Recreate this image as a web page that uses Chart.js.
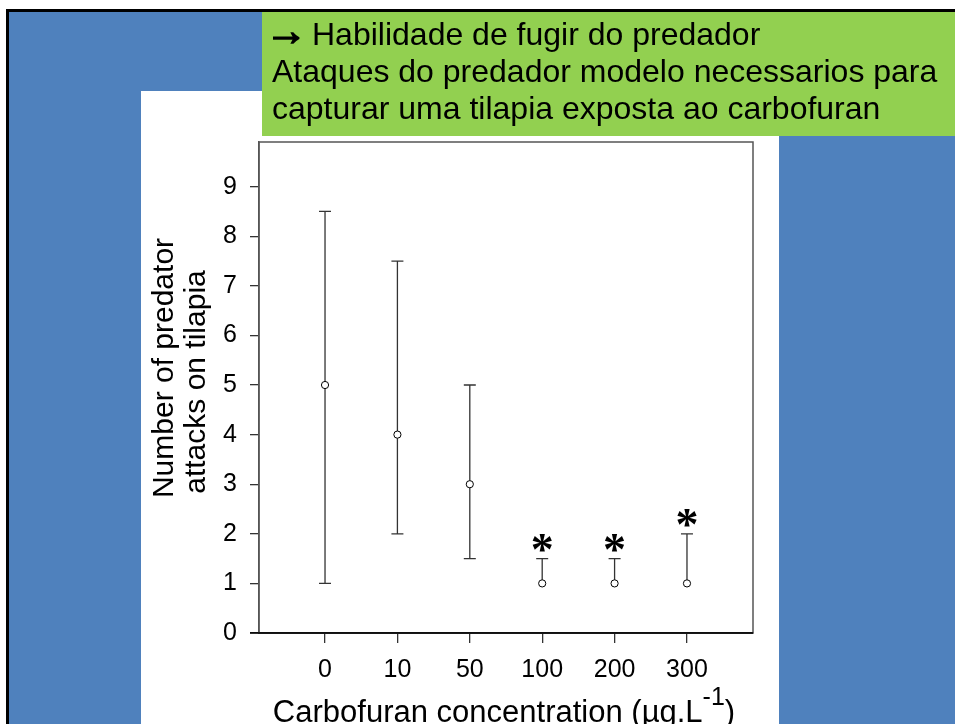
<!DOCTYPE html>
<html>
<head>
<meta charset="utf-8">
<script src="https://cdn.jsdelivr.net/npm/chart.js@4.4.1/dist/chart.umd.min.js"></script>
<style>
  html, body { margin: 0; padding: 0; background: #fff; }
  canvas { display: block; }
</style>
</head>
<body>
<canvas id="chart" width="955" height="724"></canvas>
<script>
// data
const categories = ['0', '10', '50', '100', '200', '300'];
const means = [5, 4, 3, 1, 1, 1];
const upper = [8.5, 7.5, 5, 1.5, 1.5, 2];
const lower = [1, 2, 1.5, 1, 1, 1];
const signif = ['', '', '', '*', '*', '*'];
const yTicks = [0, 1, 2, 3, 4, 5, 6, 7, 8, 9];

const headerArrow = '\u2192';
const headerLines = [
    'Habilidade de fugir do predador',
    'Ataques do predador modelo necessarios para',
    'capturar uma tilapia exposta ao carbofuran'
];
const yTitle = ['Number of predator', 'attacks on tilapia'];

const FONT = '"Liberation Sans", Arial, sans-serif';

const slidePlugin = {
    id: 'slide',
    beforeDraw(chart) {
        const ctx = chart.ctx
        ctx.save()
        ctx.fillStyle = '#fff'
        ctx.fillRect(0, 0, 955, 724)
        // blue slide with black frame
        ctx.fillStyle = '#4F81BD'
        ctx.fillRect(7, 10, 980, 730)
        ctx.strokeStyle = '#000'
        ctx.lineWidth = 3
        ctx.strokeRect(7.5, 10.5, 980, 730)
        // white panel behind the chart
        ctx.fillStyle = '#fff'
        ctx.fillRect(141, 91, 638, 640)
        // green header
        ctx.fillStyle = '#92D050'
        ctx.fillRect(262, 12, 700, 124)
        ctx.fillStyle = '#000'
        ctx.textAlign = 'left'
        ctx.textBaseline = 'alphabetic'
        ctx.font = 'bold 42px ' + FONT
        ctx.lineWidth = 1.6
        ctx.fillText(headerArrow, 265, 45)
        ctx.strokeText(headerArrow, 265, 45)
        ctx.font = '32px ' + FONT
        ctx.fillText(headerLines[0], 312, 45)
        ctx.fillText(headerLines[1], 272, 82)
        ctx.fillText(headerLines[2], 272, 119)
        ctx.restore()
    },
    beforeDatasetsDraw(chart) {
        const ctx = chart.ctx
        const xs = chart.scales.x, ys = chart.scales.y
        ctx.save()
        ctx.strokeStyle = '#333'
        ctx.lineWidth = 1.3
        categories.forEach((c, i) => {
            const x = xs.getPixelForValue(i)
            const yHi = ys.getPixelForValue(upper[i])
            const yLo = ys.getPixelForValue(lower[i])
            ctx.beginPath()
            ctx.moveTo(x, yLo)
            ctx.lineTo(x, yHi)
            ctx.moveTo(x - 6, yHi)
            ctx.lineTo(x + 6, yHi)
            if (lower[i] < means[i]) {
                ctx.moveTo(x - 6, yLo)
                ctx.lineTo(x + 6, yLo)
            }
            ctx.stroke()
        })
        ctx.restore()
    },
    afterDraw(chart) {
        const ctx = chart.ctx
        const a = chart.chartArea
        const xs = chart.scales.x, ys = chart.scales.y
        ctx.save()
        // plot frame
        ctx.strokeStyle = '#555'
        ctx.lineWidth = 1.5
        ctx.strokeRect(a.left, a.top, a.right - a.left, a.bottom - a.top)
        ctx.strokeStyle = '#000'
        ctx.beginPath()
        ctx.moveTo(a.left - 9, a.bottom)
        ctx.lineTo(a.right, a.bottom)
        ctx.stroke()

        // significance stars
        ctx.fillStyle = '#000'
        ctx.font = 'bold 46px "Liberation Serif", "Times New Roman", serif'
        ctx.textAlign = 'center'
        ctx.textBaseline = 'alphabetic'
        signif.forEach((s, i) => {
            if (!s) return
            const x = xs.getPixelForValue(i)
            const y = ys.getPixelForValue(upper[i]) - 17
            ctx.fillText(s, x, y + 23)
        })

        // x title with superscript
        ctx.font = '31px ' + FONT
        ctx.textAlign = 'left'
        const main = 'Carbofuran concentration (\u00b5g.L'
        const wMain = ctx.measureText(main).width
        ctx.font = '25px ' + FONT
        const wSup = ctx.measureText('-1').width
        ctx.font = '31px ' + FONT
        const wEnd = ctx.measureText(')').width
        let x0 = 504 - (wMain + wSup + wEnd) / 2
        ctx.fillText(main, x0, 722)
        ctx.font = '25px ' + FONT
        ctx.fillText('-1', x0 + wMain, 705)
        ctx.font = '31px ' + FONT
        ctx.fillText(')', x0 + wMain + wSup, 722)

        // y title, two lines
        ctx.font = '30px ' + FONT
        ctx.textAlign = 'center'
        ctx.save()
        ctx.translate(173, 368)
        ctx.rotate(-Math.PI / 2)
        ctx.fillText(yTitle[0], 0, 0)
        ctx.restore()
        ctx.save()
        ctx.translate(205, 382)
        ctx.rotate(-Math.PI / 2)
        ctx.fillText(yTitle[1], 0, 0)
        ctx.restore()
        ctx.restore()
    }
};

new Chart(document.getElementById('chart'), {
    type: 'scatter',
    data: {
        datasets: [{
            data: means.map((m, i) => ({x: i, y: m})),
            pointStyle: 'circle',
            pointRadius: 3.6,
            borderColor: '#000',
            backgroundColor: '#fff',
            borderWidth: 1
        }]
    },
    options: {
        responsive: false,
        animation: false,
        layout: {padding: {left: 199, top: 142, right: 202, bottom: 0}},
        plugins: {legend: {display: false}, tooltip: {enabled: false}},
        scales: {
            x: {
                type: 'linear',
                min: -0.912,
                max: 5.912,
                afterBuildTicks: s => { s.ticks = categories.map((c, i) => ({value: i})) },
                afterFit: s => { s.height = 91 },
                ticks: {
                    callback: v => categories[v],
                    color: '#000',
                    font: {family: FONT, size: 25},
                    padding: 12,
                    maxRotation: 0
                },
                grid: {drawOnChartArea: false, drawTicks: true, tickLength: 10, color: '#333', lineWidth: 1.3},
                border: {display: true, color: '#000', width: 1.5}
            },
            y: {
                min: 0,
                max: 9.9,
                afterBuildTicks: s => { s.ticks = yTicks.map(v => ({value: v})) },
                afterFit: s => { s.width = 60 },
                ticks: {
                    color: '#000',
                    font: {family: FONT, size: 25},
                    padding: 13
                },
                grid: {drawOnChartArea: false, drawTicks: true, tickLength: 9, color: '#333', lineWidth: 1.3},
                border: {display: true, color: '#555', width: 1.5}
            }
        }
    },
    plugins: [slidePlugin]
});
</script>
</body>
</html>
